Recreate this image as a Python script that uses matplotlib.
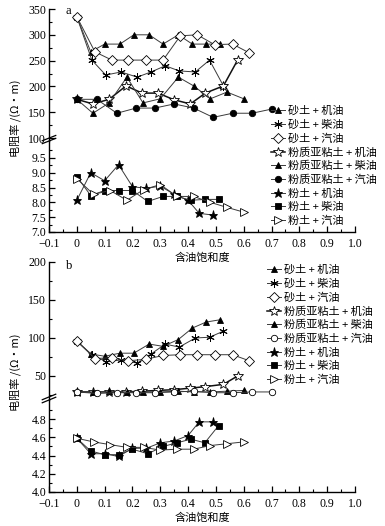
import matplotlib
matplotlib.use("Agg")
import matplotlib.pyplot as plt
from matplotlib.ticker import MultipleLocator, FixedLocator

plt.rcParams['font.family'] = ['Liberation Serif', 'Noto Sans CJK SC', 'DejaVu Sans']
plt.rcParams['axes.unicode_minus'] = True

# ---------------- data ----------------
labels = ["砂土 + 机油", "砂土 + 柴油", "砂土 + 汽油",
          "粉质亚粘土 + 机油", "粉质亚粘土 + 柴油", "粉质亚粘土 + 汽油",
          "粉土 + 机油", "粉土 + 柴油", "粉土 + 汽油"]

x_ticks = [-0.1, 0, 0.1, 0.2, 0.3, 0.4, 0.5, 0.6, 0.7, 0.8, 0.9, 1.0]
x_ticklabels = ["\u22120.1", "0", "0.1", "0.2", "0.3", "0.4", "0.5", "0.6", "0.7", "0.8", "0.9", "1.0"]

# saturation positions per series
s_sand_engine = [0, 0.05, 0.10, 0.155, 0.205, 0.26, 0.31, 0.365, 0.415, 0.465, 0.515]
s_sand_diesel = [0, 0.054, 0.104, 0.159, 0.217, 0.267, 0.318, 0.368, 0.426, 0.477, 0.527]
s_sand_gas = [0, 0.065, 0.126, 0.184, 0.249, 0.31, 0.372, 0.433, 0.495, 0.56, 0.62]
s_clay_engine = [0, 0.058, 0.116, 0.177, 0.235, 0.292, 0.35, 0.408, 0.462, 0.527, 0.578]
s_clay_diesel = [0, 0.058, 0.116, 0.18, 0.238, 0.30, 0.365, 0.42, 0.48, 0.54, 0.60]
s_clay_gas = [0, 0.072, 0.144, 0.213, 0.28, 0.35, 0.42, 0.49, 0.56, 0.63, 0.70]
s_silt_engine = [0, 0.05, 0.10, 0.15, 0.20, 0.25, 0.30, 0.35, 0.40, 0.44, 0.49]
s_silt_diesel = [0, 0.05, 0.10, 0.15, 0.20, 0.255, 0.31, 0.36, 0.41, 0.46, 0.51]
s_silt_gas = [0, 0.06, 0.12, 0.18, 0.24, 0.30, 0.36, 0.42, 0.48, 0.54, 0.60]

# panel a (resistivity, Ω·m)
a_sand_engine = [335, 267, 282, 282, 300, 300, 282, 300, 282, 282, 282]
a_sand_diesel = [335, 251, 222, 228, 218, 228, 240, 230, 228, 251, 201]
a_sand_gas = [335, 267, 251, 251, 251, 251, 298, 300, 281, 282, 265]
a_clay_engine = [175, 166, 175, 201, 187, 187, 174, 166, 187, 201, 251]
a_clay_diesel = [175, 148, 168, 218, 168, 176, 218, 201, 176, 189, 176]
a_clay_gas = [175, 175, 148, 158, 158, 166, 158, 140, 148, 148, 156]
a_silt_engine = [8.07, 9.0, 8.73, 9.27, 8.53, 8.47, 8.55, 8.27, 8.07, 7.63, 7.57]
a_silt_diesel = [8.87, 8.23, 8.4, 8.4, 8.4, 8.03, 8.2, 8.2, 8.07, 8.1, 8.1]
a_silt_gas = [8.8, 8.27, 8.4, 8.07, 8.43, 8.6, 8.2, 8.2, 8.0, 7.83, 7.67]

# panel b
b_sand_engine = [96, 79, 76, 80, 80, 92, 89, 98, 113, 121, 124]
b_sand_diesel = [96, 78, 69, 71, 67, 79, 92, 88, 100, 101, 109]
b_sand_gas = [96, 73, 74, 70, 72, 77, 78, 78, 78, 78, 70]
b_clay_engine = [29, 29, 29, 29, 30, 31, 32, 34, 36, 39, 50]
b_clay_diesel = [29, 29, 30, 29, 29, 29, 30, 29, 29, 30, 31]
b_clay_gas = [29, 27, 28, 28, 28, 29, 30, 28, 28, 29, 29]
b_silt_engine = [4.59, 4.42, 4.42, 4.39, 4.48, 4.48, 4.54, 4.56, 4.62, 4.77, 4.77]
b_silt_diesel = [4.59, 4.45, 4.41, 4.41, 4.47, 4.42, 4.50, 4.54, 4.58, 4.54, 4.73]
b_silt_gas = [4.59, 4.55, 4.52, 4.49, 4.49, 4.46, 4.47, 4.47, 4.51, 4.53, 4.55]

# ---------------- figure ----------------
W, H = 385, 526
fig = plt.figure(figsize=(W / 100, H / 100), dpi=100)

def ax_px(left, top, right, bottom):
    return fig.add_axes([left / W, 1 - bottom / H, (right - left) / W, (bottom - top) / H])

LX, RX = 49, 355
ax_a1 = ax_px(LX, 9, RX, 141)
ax_a2 = ax_px(LX, 141, RX, 232)
ax_b1 = ax_px(LX, 262, RX, 400)
ax_b2 = ax_px(LX, 400, RX, 492)

lc = '#3a3a3a'
lw = 0.7
ms = 5

def style(name, panel):
    base = dict(color=lc, lw=lw, markersize=ms, markeredgecolor='black', markeredgewidth=0.6)
    if name == 'sand_engine':
        base.update(marker='^', markerfacecolor='black')
    elif name == 'sand_diesel':
        base.update(marker=(6, 2, 0), markersize=6, markeredgewidth=0.7)
    elif name == 'sand_gas':
        base.update(marker='D', markerfacecolor='white', markersize=4.6)
    elif name == 'clay_engine':
        base.update(marker='*', markerfacecolor='white', markersize=7, lw=1.1, color='#111111')
    elif name == 'clay_diesel':
        base.update(marker='^', markerfacecolor='black')
    elif name == 'clay_gas':
        base.update(marker='o', markerfacecolor='black' if panel == 'a' else 'white', markersize=4.6)
    elif name == 'silt_engine':
        base.update(marker='*', markerfacecolor='black', markersize=6.5)
    elif name == 'silt_diesel':
        base.update(marker='s', markerfacecolor='black', markersize=4.3)
    elif name == 'silt_gas':
        base.update(marker='>', markerfacecolor='white', markersize=5.5)
    return base

names = ['sand_engine', 'sand_diesel', 'sand_gas', 'clay_engine', 'clay_diesel',
         'clay_gas', 'silt_engine', 'silt_diesel', 'silt_gas']
s_all = [s_sand_engine, s_sand_diesel, s_sand_gas, s_clay_engine, s_clay_diesel,
         s_clay_gas, s_silt_engine, s_silt_diesel, s_silt_gas]
a_all = [a_sand_engine, a_sand_diesel, a_sand_gas, a_clay_engine, a_clay_diesel,
         a_clay_gas, a_silt_engine, a_silt_diesel, a_silt_gas]
b_all = [b_sand_engine, b_sand_diesel, b_sand_gas, b_clay_engine, b_clay_diesel,
         b_clay_gas, b_silt_engine, b_silt_diesel, b_silt_gas]

handles_a, handles_b = [], []
for i, (nm, s) in enumerate(zip(names, s_all)):
    tgt_a = ax_a1 if i < 6 else ax_a2
    tgt_b = ax_b1 if i < 6 else ax_b2
    h, = tgt_a.plot(s, a_all[i], clip_on=False, zorder=3, **style(nm, 'a'))
    handles_a.append(h)
    h, = tgt_b.plot(s, b_all[i], clip_on=False, zorder=3, **style(nm, 'b'))
    handles_b.append(h)

for ax in (ax_a1, ax_a2, ax_b1, ax_b2):
    ax.set_xlim(-0.1, 1.0)
    ax.patch.set_alpha(0)
    for sp in ('top', 'right'):
        ax.spines[sp].set_visible(False)
    ax.spines['left'].set_linewidth(1.0)
    ax.spines['bottom'].set_linewidth(1.0)
    ax.tick_params(axis='both', which='major', direction='in', length=4, width=0.9,
                   labelsize=8.5, labelfontfamily='Liberation Serif')
    ax.tick_params(axis='y', which='major', pad=2)
    ax.tick_params(axis='x', which='major', pad=4)
    ax.tick_params(axis='both', which='minor', direction='in', length=2, width=0.8)

for ax in (ax_a1, ax_b1):
    ax.spines['bottom'].set_visible(False)
    ax.tick_params(axis='x', which='both', bottom=False, labelbottom=False)

for ax in (ax_a2, ax_b2):
    ax.xaxis.set_major_locator(FixedLocator(x_ticks))
    ax.set_xticklabels(x_ticklabels)
    ax.xaxis.set_minor_locator(MultipleLocator(0.05))
    ax.set_xlabel("含油饱和度", family=['Noto Sans CJK SC'], fontsize=8, labelpad=2)

ax_a1.set_ylim(94.2, 350)
ax_a1.yaxis.set_major_locator(MultipleLocator(50))
ax_a1.yaxis.set_minor_locator(MultipleLocator(25))
ax_a2.set_ylim(7.0, 10.07)
ax_a2.yaxis.set_major_locator(FixedLocator([7.0, 7.5, 8.0, 8.5, 9.0, 9.5]))
ax_a2.yaxis.set_minor_locator(FixedLocator([7.25, 7.75, 8.25, 8.75, 9.25, 9.75]))
ax_a2.set_yticklabels(["7.0", "7.5", "8.0", "8.5", "9.0", "9.5"])

ax_b1.set_ylim(18.4, 200)
ax_b1.yaxis.set_major_locator(FixedLocator([50, 100, 150, 200]))
ax_b1.yaxis.set_minor_locator(FixedLocator([25, 75, 125, 175]))
ax_b2.set_ylim(4.0, 5.01)
ax_b2.yaxis.set_major_locator(FixedLocator([4.0, 4.2, 4.4, 4.6, 4.8]))
ax_b2.yaxis.set_minor_locator(FixedLocator([4.1, 4.3, 4.5, 4.7, 4.9]))
ax_b2.set_yticklabels(["4.0", "4.2", "4.4", "4.6", "4.8"])

# break marks on the left spine
for ax in (ax_a1, ax_b1):
    tr = ax.transAxes
    for dy in (0.0, 0.022):
        ax.plot([-0.022, 0.022], [-0.02 + dy, 0.02 + dy], transform=tr, color='black',
                lw=0.9, clip_on=False)

# panel letters
fig.text(66 / W, 1 - 11 / H, "a", fontsize=9, family='Liberation Serif', va='center')
fig.text(66 / W, 1 - 266 / H, "b", fontsize=9, family='Liberation Serif', va='center')

# y labels
ylab = "电阻率 /(Ω·m)"
fig.text(15 / W, 1 - 118 / H, ylab, rotation=90, fontsize=8, ha='center', va='center',
         family=['Noto Sans CJK SC', 'DejaVu Sans'])
fig.text(15 / W, 1 - 372 / H, ylab, rotation=90, fontsize=8, ha='center', va='center',
         family=['Noto Sans CJK SC', 'DejaVu Sans'])

leg_kw = dict(loc='upper left', frameon=False, borderpad=0, borderaxespad=0,
              handlelength=1.25, handletextpad=0.25, labelspacing=0.31,
              prop={'family': ['Noto Sans CJK SC'], 'size': 8})
fig.legend(handles_a, labels, bbox_to_anchor=(271 / W, 1 - 106 / H), **leg_kw)
fig.legend(handles_b, labels, bbox_to_anchor=(267 / W, 1 - 265 / H), **leg_kw)

fig.savefig("out.png", dpi=100)
